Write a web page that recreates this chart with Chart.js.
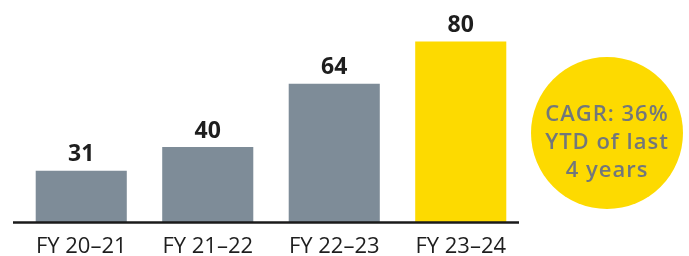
<!DOCTYPE html>
<html>
<head>
<meta charset="utf-8">
<script src="https://cdn.jsdelivr.net/npm/chart.js@4"></script>
<style>
  html, body { margin: 0; padding: 0; background: #fff; }
  #wrap { width: 689px; height: 256px; position: relative; }
</style>
</head>
<body>
<div id="wrap"><canvas id="growth-chart"></canvas></div>
<script>
// data
const years = ['FY 20\u201321', 'FY 21\u201322', 'FY 22\u201323', 'FY 23\u201324'];
const values = [31, 40, 64, 80];
const barColors = ['#7e8c98', '#7e8c98', '#7e8c98', '#fdda00'];
const badgeLines = ['CAGR: 36%', 'YTD of last', '4 years'];

// value on top of each bar
const valueLabels = {
  id: 'valueLabels',
  afterDatasetsDraw(chart) {
    const { ctx } = chart;
    const meta = chart.getDatasetMeta(0);
    ctx.save();
    ctx.font = 'bold 23px "Open Sans"';
    ctx.fillStyle = '#1e1e1e';
    ctx.textAlign = 'center';
    ctx.textBaseline = 'middle';
    meta.data.forEach((bar, i) => {
      ctx.fillText(values[i], bar.x, bar.y - 16);
    });
    ctx.restore();
  }
};

// baseline + yellow CAGR circle
const extras = {
  id: 'extras',
  afterDraw(chart) {
    const { ctx, chartArea } = chart;
    ctx.save();
    ctx.strokeStyle = '#1a1a1a';
    ctx.lineWidth = 2.5;
    ctx.beginPath();
    ctx.moveTo(13, chartArea.bottom);
    ctx.lineTo(519, chartArea.bottom);
    ctx.stroke();

    const cx = 607, cy = 133, r = 76;
    ctx.fillStyle = '#fdda00';
    ctx.beginPath();
    ctx.arc(cx, cy, r, 0, Math.PI * 2);
    ctx.fill();

    ctx.font = '600 22px "Open Sans"';
    ctx.letterSpacing = '1px';
    ctx.fillStyle = '#72777b';
    ctx.textAlign = 'center';
    ctx.textBaseline = 'middle';
    badgeLines.forEach((t, i) => {
      ctx.fillText(t, cx, 115 + i * 28);
    });
    ctx.restore();
  }
};

const config = {
  type: 'bar',
  data: {
    labels: years,
    datasets: [{
      data: values,
      backgroundColor: barColors,
      borderWidth: 0,
      barPercentage: 0.72,
      categoryPercentage: 1
    }]
  },
  options: {
    responsive: true,
    maintainAspectRatio: false,
    animation: false,
    layout: {
      padding: { left: 18, right: 165, top: 0, bottom: -15 }
    },
    plugins: {
      legend: { display: false },
      tooltip: { enabled: false }
    },
    scales: {
      x: {
        grid: { display: false, drawTicks: false },
        border: { display: false },
        ticks: {
          padding: 11,
          color: '#1e1e1e',
          font: { family: '"Open Sans"', size: 22 }
        }
      },
      y: {
        display: false,
        min: 11.3,
        max: 95.8
      }
    }
  },
  plugins: [valueLabels, extras]
};

const growthChart = new Chart(
  document.getElementById('growth-chart').getContext('2d'),
  config
);
</script>
</body>
</html>
